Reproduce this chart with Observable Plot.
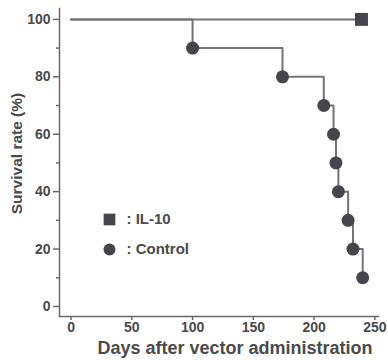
<!DOCTYPE html>
<html><head><meta charset="utf-8">
<script src="https://cdn.jsdelivr.net/npm/d3@7"></script>
<script src="https://cdn.jsdelivr.net/npm/@observablehq/plot@0.6"></script>
<style>
body{margin:0;background:#fff}
svg{font-family:"Liberation Sans",Arial,sans-serif}
</style>
</head><body><div id="chart"></div>
<script>
const controlDays = [0, 100, 174, 208, 216, 218, 220, 228, 232, 240];
const controlSurvival = [100, 90, 80, 70, 60, 50, 40, 30, 20, 10];
const il10Days = [0, 239];
const il10Survival = [100, 100];
const xTicks = [0, 50, 100, 150, 200, 250];
const yTicks = [0, 20, 40, 60, 80, 100];
const yMinorTicks = [10, 30, 50, 70, 90];
const legendLabels = [": IL-10", ": Control"];
const legendSymbols = ["square", "circle"];
const xLabel = "Days after vector administration";
const yLabel = "Survival rate (%)";

const control = controlDays.map((d, i) => ({day: d, survival: controlSurvival[i]}));
const il10 = il10Days.map((d, i) => ({day: d, survival: il10Survival[i]}));

const lineColor = "#747474";
const markColor = "#45464d";
const textColor = "#4a4a4a";
const axisColor = "#6a6a6a";

const legendMarks = legendLabels.flatMap((lab, i) => [
  Plot.dot([lab], {frameAnchor: "top-left", dx: 50, dy: 211 + i * 30, symbol: legendSymbols[i],
    r: legendSymbols[i] === "square" ? 6.6 : 6, fill: markColor, stroke: "none"}),
  Plot.text([lab], {frameAnchor: "top-left", dx: 67, dy: 211 + i * 30, text: d => d, textAnchor: "start",
    lineAnchor: "middle", fontSize: 15, fontWeight: "bold", fill: textColor})
]);

const chart = Plot.plot({
  width: 388, height: 360,
  marginLeft: 59, marginRight: 10, marginTop: 8, marginBottom: 44,
  style: {background: "#fff", color: textColor},
  x: {domain: [-9.5, 253]},
  y: {domain: [-3.5, 103.8]},
  marks: [
    Plot.axisY(yTicks, {tickSize: 6, tickPadding: 3, fontSize: 14, fontWeight: "bold", label: null, stroke: axisColor, fill: textColor, strokeWidth: 1.5}),
    Plot.axisY(yMinorTicks, {tickSize: 3, tickFormat: () => "", label: null, stroke: axisColor, strokeWidth: 1.5}),
    Plot.axisX(xTicks, {tickSize: 4, tickPadding: 2, fontSize: 14, fontWeight: "bold", label: null, stroke: axisColor, fill: textColor, strokeWidth: 1.5}),
    Plot.frame({anchor: "left", stroke: axisColor, strokeWidth: 1.5}),
    Plot.frame({anchor: "bottom", stroke: axisColor, strokeWidth: 1.5}),
    Plot.text([xLabel], {frameAnchor: "bottom", dx: 16, dy: 37, text: d => d, textAnchor: "middle", lineAnchor: "bottom", fontSize: 18, fontWeight: "bold", fill: textColor}),
    Plot.text([yLabel], {frameAnchor: "left", dx: -42, dy: -9, rotate: -90, text: d => d, textAnchor: "middle", lineAnchor: "middle", fontSize: 15.5, fontWeight: "bold", fill: textColor}),
    Plot.line(il10, {x: "day", y: "survival", stroke: lineColor, strokeWidth: 2}),
    Plot.line(control, {x: "day", y: "survival", curve: "step-after", stroke: lineColor, strokeWidth: 2}),
    Plot.dot(control.slice(1), {x: "day", y: "survival", r: 6.5, fill: markColor, stroke: "none"}),
    Plot.dot(il10.slice(-1), {x: "day", y: "survival", symbol: "square", r: 7.3, fill: markColor, stroke: "none"}),
    ...legendMarks
  ]
});
document.getElementById("chart").appendChild(chart);
</script>
</body></html>
